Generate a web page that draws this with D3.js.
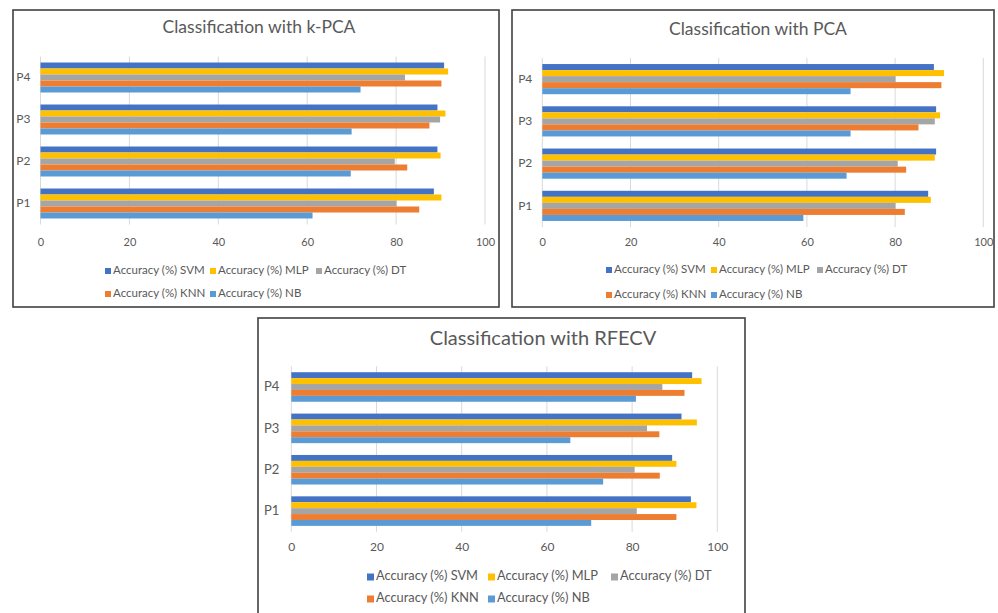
<!DOCTYPE html>
<html>
<head>
<meta charset="utf-8">
<script src="https://cdn.jsdelivr.net/npm/d3@7"></script>
<style>
  html, body { margin: 0; padding: 0; background: #ffffff; }
  svg { display: block; }
  text { font-family: Lato, "Open Sans", "Liberation Sans", sans-serif; fill: #595959; }
</style>
</head>
<body>
<svg id="chart" width="998" height="613"></svg>
<script>
// Categories (profiles) and series shared by all three panels
const categories = ["P1", "P2", "P3", "P4"];
const seriesNames = ["SVM", "MLP", "DT", "KNN", "NB"];
const seriesLabels = ["Accuracy (%) SVM", "Accuracy (%) MLP", "Accuracy (%) DT",
                      "Accuracy (%) KNN", "Accuracy (%) NB"];
const seriesColors = ["#4472C4", "#FFC000", "#A5A5A5", "#ED7D31", "#5B9BD5"];
const xTicks = [0, 20, 40, 60, 80, 100];

// Accuracy (%) per category P1..P4 — kernel PCA
const kpcaSVM = [88.5, 89.3, 89.3, 90.8];
const kpcaMLP = [90.2, 90.0, 91.1, 91.7];
const kpcaDT  = [80.1, 79.7, 89.9, 82.0];
const kpcaKNN = [85.2, 82.5, 87.5, 90.2];
const kpcaNB  = [61.2, 69.8, 70.0, 72.0];

// PCA
const pcaSVM = [87.5, 89.3, 89.3, 88.8];
const pcaMLP = [88.1, 89.0, 90.2, 91.1];
const pcaDT  = [80.1, 80.6, 89.0, 80.1];
const pcaKNN = [82.2, 82.5, 85.3, 90.5];
const pcaNB  = [59.2, 69.0, 69.9, 69.9];

// RFECV
const rfeSVM = [93.8, 89.4, 91.6, 94.1];
const rfeMLP = [95.1, 90.4, 95.2, 96.3];
const rfeDT  = [81.1, 80.6, 83.5, 87.1];
const rfeKNN = [90.4, 86.5, 86.4, 92.3];
const rfeNB  = [70.4, 73.2, 65.5, 80.9];

const svg = d3.select("#chart");

function drawPanel(p) {
  const g = svg.append("g");

  // frame
  g.append("rect")
    .attr("x", p.box[0]).attr("y", p.box[1])
    .attr("width", p.box[2] - p.box[0]).attr("height", p.box[3] - p.box[1])
    .attr("fill", "#ffffff").attr("stroke", "#404040").attr("stroke-width", 1.6);

  // title
  g.append("text")
    .attr("x", p.titleX).attr("y", p.titleY)
    .attr("text-anchor", "middle").attr("dominant-baseline", "middle")
    .style("font-size", p.titleSize + "px")
    .text(p.title);

  const x = d3.scaleLinear().domain([0, 100]).range(p.xRange);
  const y = d3.scaleBand().domain(categories.slice().reverse())
    .range(p.yRange).paddingInner(0.286).paddingOuter(0.143);
  const inner = d3.scaleBand().domain(seriesNames).range([0, y.bandwidth()]);

  // vertical gridlines
  g.append("g").selectAll("line").data(xTicks).join("line")
    .attr("x1", d => x(d)).attr("x2", d => x(d))
    .attr("y1", p.yRange[0]).attr("y2", p.yRange[1])
    .attr("stroke", "#d9d9d9").attr("stroke-width", 1);

  // x axis tick labels
  const xAxis = d3.axisBottom(x).tickValues(xTicks).tickSize(0).tickPadding(0);
  const ax = g.append("g").attr("transform", `translate(0,${p.tickY})`).call(xAxis);
  ax.select(".domain").remove();
  ax.selectAll("text")
    .attr("dy", null).attr("y", 0)
    .attr("dominant-baseline", "middle")
    .style("font-size", p.fontSize + "px").style("fill", "#595959")
    .style("font-family", null);

  // category labels
  const yAxis = d3.axisLeft(y).tickSize(0).tickPadding(p.catPad);
  const ay = g.append("g").attr("transform", `translate(${p.xRange[0]},0)`).call(yAxis);
  ay.select(".domain").remove();
  ay.selectAll("text")
    .style("font-size", (p.fontSize + 1) + "px").style("fill", "#595959")
    .style("font-family", null);

  // bars
  seriesNames.forEach((s, i) => {
    const vals = p.values[i];
    g.append("g").selectAll("rect").data(categories).join("rect")
      .attr("x", x(0))
      .attr("y", (c) => y(c) + inner(s))
      .attr("width", (c, k) => x(vals[k]) - x(0))
      .attr("height", inner.bandwidth())
      .attr("fill", seriesColors[i]);
  });

  // legend (two rows)
  const rows = [[0, 1, 2], [3, 4]];
  rows.forEach((row, r) => {
    row.forEach((si, col) => {
      const lx = p.legendX[col];
      const ly = p.legendY[r];
      g.append("rect")
        .attr("x", lx).attr("y", ly - p.sq / 2)
        .attr("width", p.sq).attr("height", p.sq)
        .attr("fill", seriesColors[si]);
      g.append("text")
        .attr("x", lx + p.sq + 2).attr("y", ly)
        .attr("dominant-baseline", "middle")
        .style("font-size", p.legendSize + "px")
        .text(seriesLabels[si]);
    });
  });
}

drawPanel({
  title: "Classification with k-PCA", titleX: 259, titleY: 28.5, titleSize: 17.5,
  box: [13, 10, 499, 307],
  xRange: [40.5, 485], yRange: [56.5, 224.5],
  tickY: 243, fontSize: 11, catPad: 10,
  legendX: [105, 210, 316], legendY: [271, 294], legendSize: 11.5, sq: 6,
  values: [kpcaSVM, kpcaMLP, kpcaDT, kpcaKNN, kpcaNB]
});

drawPanel({
  title: "Classification with PCA", titleX: 758, titleY: 31, titleSize: 17.5,
  box: [512, 10, 994, 307],
  xRange: [542.3, 983.3], yRange: [58, 227],
  tickY: 243, fontSize: 11, catPad: 10,
  legendX: [606, 711, 817], legendY: [270, 295], legendSize: 11.5, sq: 6,
  values: [pcaSVM, pcaMLP, pcaDT, pcaKNN, pcaNB]
});

drawPanel({
  title: "Classification with RFECV", titleX: 543, titleY: 339.5, titleSize: 20,
  box: [258, 318, 745, 630],
  xRange: [291.3, 717.3], yRange: [366.3, 531.8],
  tickY: 548, fontSize: 12, catPad: 12,
  legendX: [367, 488, 611], legendY: [577, 599], legendSize: 12.8, sq: 7,
  values: [rfeSVM, rfeMLP, rfeDT, rfeKNN, rfeNB]
});
</script>
</body>
</html>
